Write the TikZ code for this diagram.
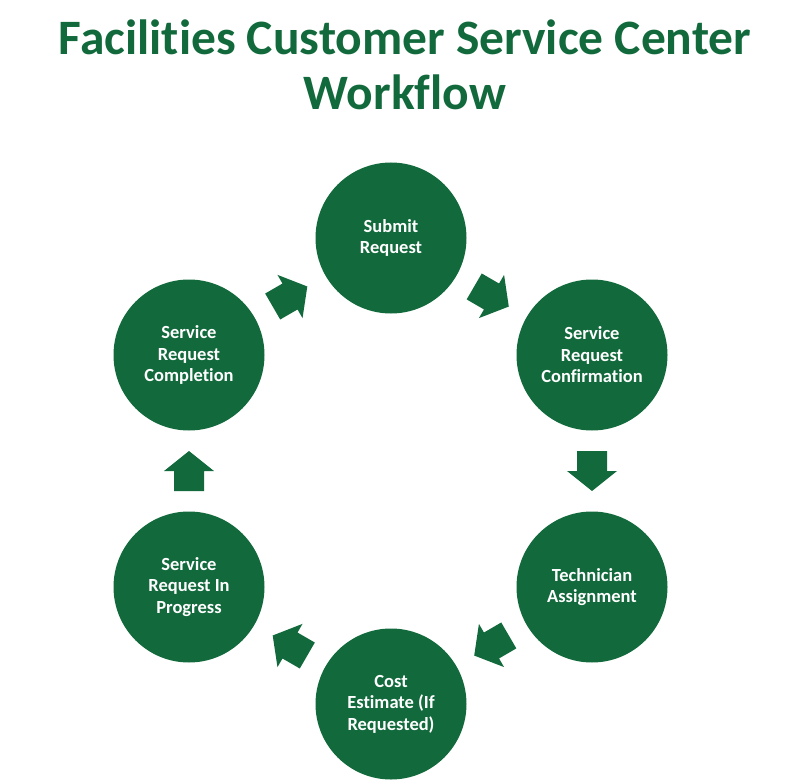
\documentclass[tikz,border=0pt]{standalone}
\usepackage{fontspec}
\setmainfont{Carlito}[Ligatures=NoCommon]
\usetikzlibrary{calc}
\definecolor{fgreen}{RGB}{18,106,60}
\tikzset{
  stepcircle/.style={circle, fill=fgreen, minimum size=151pt, inner sep=0pt, align=center, text=white, font=\bfseries\fontsize{18.5}{21.5}\selectfont},
  barrow/.pic={\fill[fgreen] (-20pt,-15pt) -- (0pt,-15pt) -- (0pt,-25pt) -- (20pt,0pt) -- (0pt,25pt) -- (0pt,15pt) -- (-20pt,15pt) -- cycle;},
  titletext/.style={text=fgreen, font=\bfseries\fontsize{49.5}{56}\selectfont, inner sep=0pt}
}
\begin{document}
\begin{tikzpicture}[x=1pt,y=-1pt]
\useasboundingbox (0,0) rectangle (798,781);
\node[titletext, anchor=base] (title1) at (405,55) {Facilities Customer Service Center};
\node[titletext, anchor=base] (title2) at (405,110) {Workflow};
\node[stepcircle] (s1) at (391,238) {Submit\\Request};
\node[stepcircle] (s2) at (592,355) {Service\\Request\\Confirmation};
\node[stepcircle] (s3) at (592,587) {Technician\\Assignment};
\node[stepcircle] (s4) at (391,704) {Cost\\Estimate (If\\Requested)};
\node[stepcircle] (s5) at (189,587) {Service\\Request In\\Progress};
\node[stepcircle] (s6) at (189,355) {Service\\Request\\Completion};
\foreach \a/\b in {s1/s2, s2/s3, s3/s4, s4/s5, s5/s6, s6/s1}{
  \path let \p1=($(\b)-(\a)$), \n1={atan2(\y1,\x1)} in pic[rotate=\n1] at ($(\a)!0.5!(\b)$) {barrow};
}
\end{tikzpicture}
\end{document}
